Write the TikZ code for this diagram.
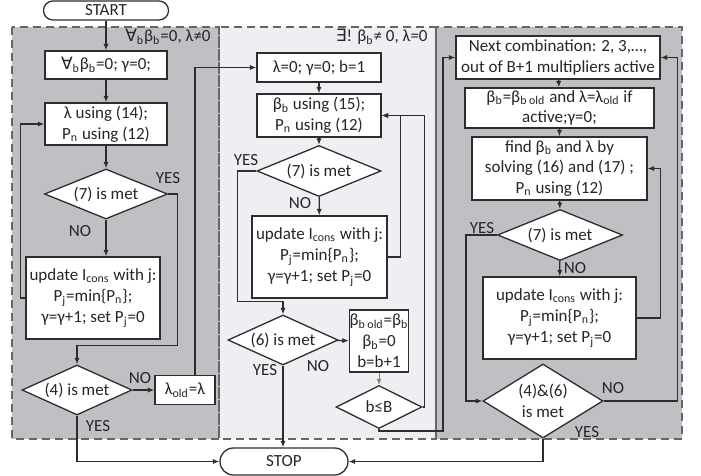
\documentclass[tikz,border=0pt]{standalone}
\usepackage{fontspec}
\setmainfont{Carlito}
\newfontfamily\symfont{DejaVu Sans}
\usetikzlibrary{shapes.geometric,arrows.meta,calc}

\definecolor{paneldark}{RGB}{192,192,196}
\definecolor{panellight}{RGB}{238,239,242}
\definecolor{linegray}{RGB}{45,45,45}
\newcommand{\lowidx}[1]{\textsubscript{#1}}

\begin{document}
\begin{tikzpicture}[x=0.5pt,y=-0.5pt,
	every node/.style={font=\fontsize{8.5}{10.4}\selectfont, text=black!85},
	box/.style={draw=linegray, fill=white, line width=0.65pt, align=center, inner sep=0pt},
	cond/.style={diamond, draw=linegray, fill=white, line width=0.65pt, align=center, inner sep=0pt},
	term/.style={draw=linegray, fill=white, line width=0.65pt, inner sep=0pt},
	line/.style={draw=linegray, line width=0.65pt, -{Latex[length=3.2pt,width=2.6pt]}},
	tag/.style={inner sep=0pt},
	panel/.style={draw=black!60, dash pattern=on 4pt off 2.5pt, line width=0.6pt}]

	\useasboundingbox (0,0) rectangle (701,476);

	% the three regions
	\fill[paneldark] (12,27) rectangle (219,439);
	\fill[panellight] (219,27) rectangle (436,439);
	\fill[paneldark] (436,27) rectangle (682,439);
	\draw[panel] (12,27) rectangle (219,439);
	\draw[panel] (219,27) rectangle (436,439);
	\draw[panel] (436,27) rectangle (682,439);

	\node[tag, anchor=east] (lamnz) at (211,37) {{\symfont ∀}\lowidx{b}β\lowidx{b}=0, λ≠0};
	\node[tag, anchor=east] (betanz) at (428,37) {{\symfont ∃}! β\lowidx{b}≠ 0, λ=0};

	\node[term, rounded corners=4.7pt, minimum width=62.5pt, minimum height=9.5pt] (start) at (106,10.5) {START};
	\node[term, rounded corners=6.7pt, minimum width=64pt, minimum height=13.5pt] (stop) at (284,461.5) {STOP};

	% left region
	\node[box, minimum width=61pt, minimum height=14pt] (A1) at (106,65) {{\symfont ∀}\lowidx{b}β\lowidx{b}=0; γ=0;};
	\node[box, minimum width=61pt, minimum height=21pt] (A2) at (106,124) {λ using (14);\\P\lowidx{n} using (12)};
	\node[cond, shape aspect=2.4, minimum width=61.5pt, minimum height=25pt] (A3) at (106,194) {(7) is met};
	\node[box, minimum width=67pt, minimum height=41pt] (A4) at (93,298) {update I\lowidx{cons} with j:\\P\lowidx{j}=min\{P\lowidx{n}\};\\γ=γ+1; set P\lowidx{j}=0};
	\node[cond, shape aspect=2.2, minimum width=55pt, minimum height=25pt] (A5) at (77,390) {(4) is met};
	\node[box, minimum width=30pt, minimum height=14.5pt] (A6) at (185,390) {λ\lowidx{old}=λ};

	% middle region
	\node[box, minimum width=62pt, minimum height=14.5pt] (B1) at (319,67.5) {λ=0; γ=0; b=1};
	\node[box, minimum width=62pt, minimum height=21.5pt] (B2) at (319,115.5) {β\lowidx{b} using (15);\\P\lowidx{n} using (12)};
	\node[cond, shape aspect=2.4, minimum width=62pt, minimum height=25.5pt] (B3) at (319,171) {(7) is met};
	\node[box, minimum width=67.5pt, minimum height=41pt] (B4) at (319.5,257) {update I\lowidx{cons} with j:\\P\lowidx{j}=min\{P\lowidx{n}\};\\γ=γ+1; set P\lowidx{j}=0};
	\node[cond, shape aspect=2.2, minimum width=55pt, minimum height=25pt] (B5) at (283,340) {(6) is met};
	\node[box, minimum width=29.5pt, minimum height=31pt] (B6) at (379,341) {β\lowidx{b old}=β\lowidx{b}\\β\lowidx{b}=0\\b=b+1};
	\node[cond, shape aspect=2, minimum width=43pt, minimum height=21.5pt] (B7) at (379,407) {b≤B};

	% right region
	\node[box, minimum width=102pt, minimum height=21.5pt] (C1) at (558,57.5) {Next combination: 2, 3,…,\\out of B+1 multipliers active};
	\node[box, minimum width=94.5pt, minimum height=20pt] (C2) at (559.5,108) {β\lowidx{b}=β\lowidx{b old} and λ=λ\lowidx{old} if\\active;γ=0;};
	\node[box, minimum width=87.5pt, minimum height=31.5pt] (C3) at (559.5,168.5) {find β\lowidx{b}  and λ by\\solving (16) and (17) ;\\P\lowidx{n} using (12)};
	\node[cond, shape aspect=2.4, minimum width=62.5pt, minimum height=25.5pt] (C4) at (560,235) {(7) is met};
	\node[box, minimum width=76.5pt, minimum height=41pt] (C5) at (559.5,318) {update I\lowidx{cons} with j:\\P\lowidx{j}=min\{P\lowidx{n}\};\\γ=γ+1; set P\lowidx{j}=0};
	\node[cond, shape aspect=1.62, minimum width=60pt, minimum height=37pt] (C6) at (543,401) {(4)\&(6)\\is met};

	\coordinate (jump) at (443,431);

	% connectors, left
	\draw[line] (start) -- (A1);
	\draw[line] (A1) -- (A2);
	\draw[line] (A2) -- (A3);
	\draw[line] (A3.south) -- (A3.south |- A4.north);
	\draw[line] (A3.east) -- ++(9,0) |- ($(A5.north)+(0,-19)$) -- (A5.north);
	\draw[line] (A4.west) -- ++(-5,0) |- (A2.west);
	\draw[line] (A5) -- (A6);
	\draw[line] (A5.south) |- (stop.west);
	\draw[line] ([xshift=5pt]A6.north) |- (B1.west);

	% connectors, middle
	\draw[line] (B1) -- (B2);
	\draw[line] (B2) -- (B3);
	\draw[line] (B3) -- (B4);
	\draw[line] (B3.west) -- ++(-19,0) |- ($(B5.north)+(0,-13)$) -- (B5.north);
	\draw[line] (B4.east) -- ++(13,0) |- (B2.east);
	\draw[line] (B5) -- (B6);
	\draw[line] (B5.south) -- (B5.south |- stop.north);
	\draw[draw=gray, line width=0.4pt, -{Latex[length=3pt,width=2.4pt]}] (B6) -- (B7);
	\draw[line] (B7.east) -- ++(2,0) |- (B2.east);
	\draw[line] (B7.south) |- (jump) |- (C1.west);

	% connectors, right
	\draw[line] (C1) -- (C2);
	\draw[line] (C2) -- (C3);
	\draw[line] (C3) -- (C4);
	\draw[line] (C4) -- (C5);
	\draw[line] (C4.west) -- ++(-31,0) |- (C6.west);
	\draw[line] (C5.east) -- ++(24,0) |- (C3.east);
	\draw[line] (C6.east) -- ++(74,0) |- (C1.east);
	\draw[line] (C6.south) |- (stop.east);

	% branch labels
	\node[tag] (yesA3) at (168,178) {YES};
	\node[tag] (noA3) at (80,231) {NO};
	\node[tag] (noA5) at (140,378) {NO};
	\node[tag] (yesA5) at (98,426) {YES};
	\node[tag] (yesB3) at (246,160) {YES};
	\node[tag] (noB3) at (300,203) {NO};
	\node[tag] (yesB5) at (265,370) {YES};
	\node[tag] (noB5) at (318,366) {NO};
	\node[tag] (yesC4) at (482,228) {YES};
	\node[tag] (noC4) at (575,268) {NO};
	\node[tag] (noC6) at (613,388) {NO};
	\node[tag] (yesC6) at (587,432) {YES};
\end{tikzpicture}
\end{document}
